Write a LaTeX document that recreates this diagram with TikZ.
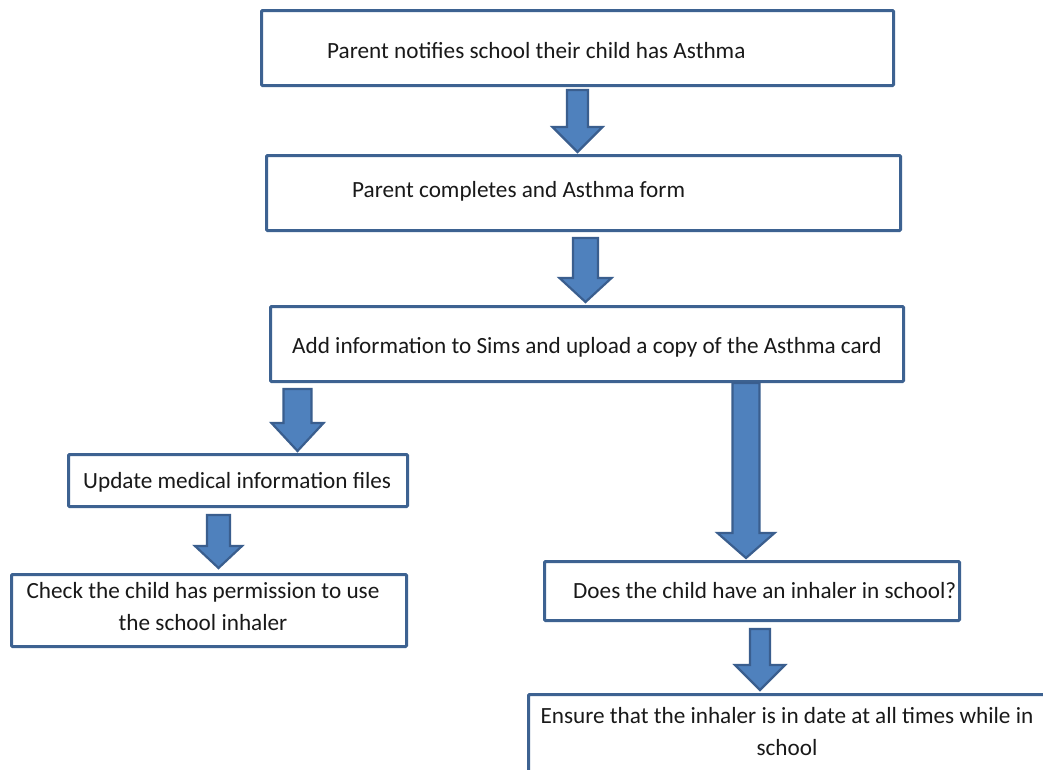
\documentclass[tikz,border=0pt]{standalone}
\usepackage{fontspec}
\setmainfont{Carlito}
\usetikzlibrary{calc}
\definecolor{boxline}{HTML}{3D6291}
\definecolor{arrfill}{HTML}{4F81BD}
\definecolor{arrline}{HTML}{3A5E8E}
\tikzset{
  flowbox/.style={draw=boxline, line width=3pt, fill=white, rounded corners=1pt, inner sep=0pt},
  flowtext/.style={font=\fontsize{23.2}{32}\selectfont, inner sep=0pt, text=black!90},
  blockarr/.style={fill=arrfill, draw=arrline, line width=2.2pt, line join=miter}
}
% #1 from node, #2 to node, #3 x centre, #4 shaft half width, #5 head half width,
% #6 head length, #7 gap below source box, #8 gap above target box
\newcommand\blockarrow[8]{%
  \path[blockarr] let \p1=(#1.south), \p2=(#2.north) in
    (#3pt-#4pt,\y1-#7pt) -- (#3pt+#4pt,\y1-#7pt) -- (#3pt+#4pt,\y2+#8pt+#6pt)
    -- (#3pt+#5pt,\y2+#8pt+#6pt) -- (#3pt,\y2+#8pt) -- (#3pt-#5pt,\y2+#8pt+#6pt)
    -- (#3pt-#4pt,\y2+#8pt+#6pt) -- cycle;}
\begin{document}
\begin{tikzpicture}[x=1pt,y=-1pt]
\useasboundingbox (0,0) rectangle (1043,769);
\clip (0,0) rectangle (1043,769);
\fill[white] (0,0) rectangle (1043,769);

% boxes
\node[flowbox, minimum width=632pt, minimum height=75pt] (b1) at (577.5,48) {};
\node[flowbox, minimum width=634pt, minimum height=75pt] (b2) at (583.5,193) {};
\node[flowbox, minimum width=633pt, minimum height=75pt] (b3) at (587,344) {};
\node[flowbox, minimum width=339pt, minimum height=52pt] (b4) at (238,480.5) {};
\node[flowbox, minimum width=395pt, minimum height=72pt] (b5) at (209,610.5) {};
\node[flowbox, minimum width=415pt, minimum height=59pt] (b6) at (752,591) {};
\node[flowbox, minimum width=540pt, minimum height=100pt] (b7) at (798.5,744.5) {};

% texts
\node[flowtext, anchor=base west] (t1) at (327,58) {Parent notifies school their child has Asthma};
\node[flowtext, anchor=base west] (t2) at (352,197) {Parent completes and Asthma form};
\node[flowtext, anchor=base west] (t3) at (292,353) {Add information to Sims and upload a copy of the Asthma card};
\node[flowtext, anchor=base west] (t4) at (83,488) {Update medical information files};
\node[flowtext, anchor=base, align=center] (t5) at (203,630) {Check the child has permission to use\\the school inhaler};
\node[flowtext, anchor=base west] (t6) at (573,598) {Does the child have an inhaler in school?};
\node[flowtext, anchor=base, align=center] (t7) at (787,755) {Ensure that the inhaler is in date at all times while in\\school};

% block arrows
\blockarrow{b1}{b2}{577.5}{10.5}{25}{25}{3}{2}
\blockarrow{b2}{b3}{585.5}{12.5}{26}{24}{6}{3}
\blockarrow{b3}{b4}{297.5}{14}{26}{28}{6}{2}
\blockarrow{b3}{b6}{746}{13.5}{28.5}{25}{0}{2}
\blockarrow{b4}{b5}{218.5}{11.5}{23.5}{22}{7}{5}
\blockarrow{b6}{b7}{760}{10}{25}{25}{7}{3}
\end{tikzpicture}
\end{document}
